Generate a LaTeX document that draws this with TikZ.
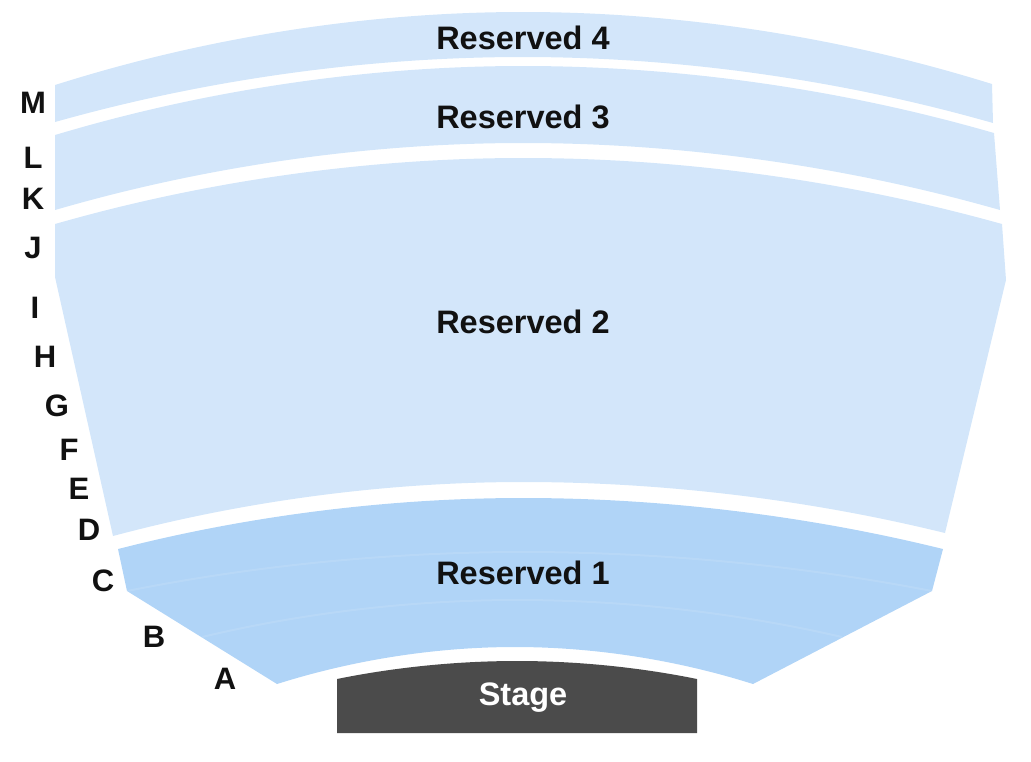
\documentclass[tikz,border=0pt]{standalone}
\usepackage{fontspec}
\setmainfont{Liberation Sans}
\usepackage{tikz}

\definecolor{seatblue}{HTML}{D3E6FA}
\definecolor{frontblue}{HTML}{B0D4F7}
\definecolor{stagegray}{HTML}{4B4B4B}
\definecolor{inkblack}{HTML}{111111}

\begin{document}
\begin{tikzpicture}[x=1pt, y=-1pt,
    section/.style={fill=seatblue},
    frontsection/.style={fill=frontblue},
    rowline/.style={draw=white, opacity=0.1, line width=2pt},
    sectiontext/.style={font=\bfseries\fontsize{32.5}{38}\selectfont, text=inkblack, inner sep=0pt, text depth=0pt},
    rowtext/.style={font=\bfseries\fontsize{31}{36}\selectfont, text=inkblack, inner sep=0pt, text depth=0pt}]
            \useasboundingbox (0, 0) rectangle (1031, 761);
            % upper sections
            \fill[section] (55, 85) parabola bend (523, 12) (992, 84) -- (993, 123)
                parabola bend (523, 57) (55, 122) -- cycle;
            \fill[section] (55, 135) parabola bend (523, 66) (994, 133) -- (1000, 210)
                parabola bend (523, 143) (55, 210) -- cycle;
            \fill[section] (55, 224) parabola bend (523, 158) (1002, 224) -- (1006, 280) -- (945, 533)
                parabola bend (523, 482) (113, 536) -- (55, 277) -- cycle;
            % front section
            \fill[frontsection] (118, 549) parabola bend (523, 498) (943, 549) -- (932, 591) -- (753, 684)
                parabola bend (515, 647) (277, 684) -- (127, 591) -- cycle;
            \draw[rowline] (127, 591) parabola bend (523, 552) (932, 591);
            \draw[rowline] (202, 637) parabola bend (517, 600) (842, 637);
            % stage
            \fill[stagegray] (337, 679) parabola bend (517, 661) (697, 679) -- (697, 733) -- (337, 733) -- cycle;

            \node[sectiontext] (res4) at (523, 38) {Reserved 4};
            \node[sectiontext] (res3) at (523, 117) {Reserved 3};
            \node[sectiontext] (res2) at (523, 322) {Reserved 2};
            \node[sectiontext] (res1) at (523, 573) {Reserved 1};
            \node[sectiontext, text=white] (stage) at (523, 694) {Stage};

            \def\Rows{M/33/103, L/33/158, K/33/199, J/33/248, I/35/308, H/45/357, G/57/406,
                F/69/450, E/79/489, D/89/530, C/103/581, B/154/637, A/225/679}
            \foreach \r/\x/\y in \Rows
            {
                \node[rowtext] (row\r) at (\x, \y) {\r};
            }
        \end{tikzpicture}
\end{document}
